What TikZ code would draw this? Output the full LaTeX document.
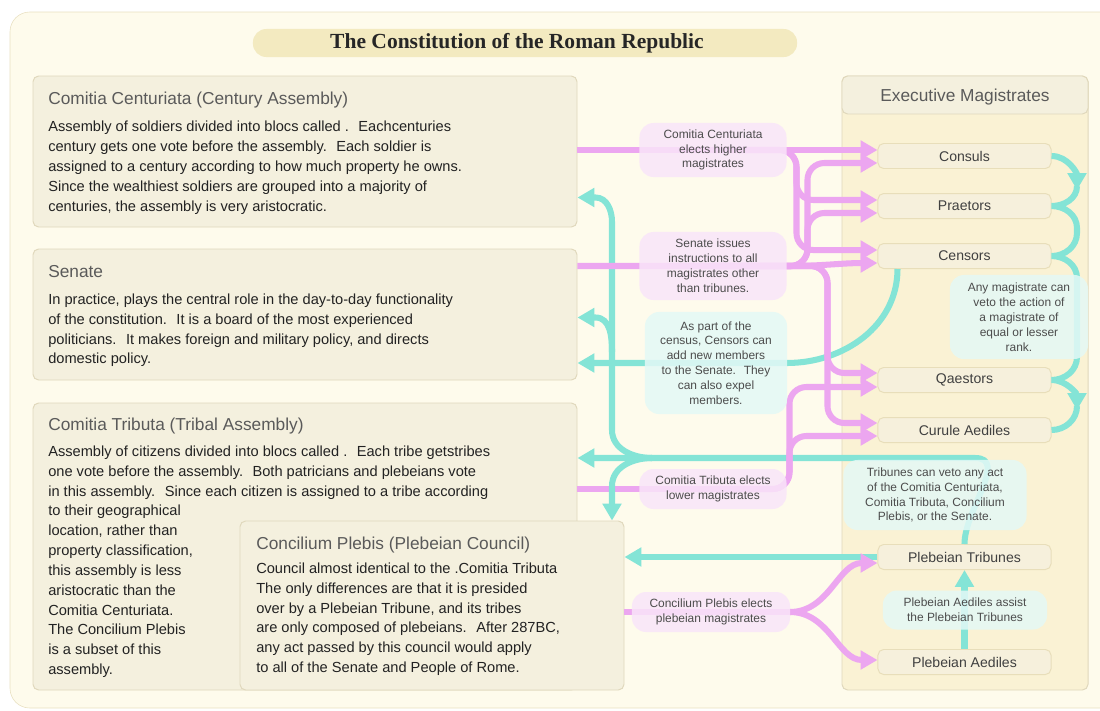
\documentclass[tikz,border=0pt]{standalone}
\usepackage{fontspec}
\setmainfont{Liberation Sans}
\newfontfamily\serifhead{Liberation Serif}
\usetikzlibrary{arrows.meta,fit,calc}

\definecolor{pagebg}{RGB}{254,251,236}
\definecolor{pageedge}{RGB}{232,224,192}
\definecolor{boxfill}{RGB}{244,240,222}
\definecolor{boxedge}{RGB}{224,216,188}
\definecolor{panelfill}{RGB}{250,242,212}
\definecolor{magfill}{RGB}{246,240,220}
\definecolor{magedge}{RGB}{232,222,186}
\definecolor{titlefill}{RGB}{243,234,192}
\definecolor{elect}{RGB}{236,166,240}
\definecolor{electfill}{RGB}{249,229,249}
\definecolor{veto}{RGB}{132,228,214}
\definecolor{vetofill}{RGB}{228,249,246}
\definecolor{headgray}{RGB}{90,90,90}
\definecolor{bodytext}{RGB}{34,34,34}

\begin{document}
\begin{tikzpicture}[x=0.025cm, y=-0.025cm, node distance=1.25cm,
    >={Triangle[length=12pt,width=13pt]},
    bigbox/.style={draw=boxedge, fill=boxfill, rounded corners=4pt, inner sep=0pt, line width=0.7pt},
    boxhead/.style={anchor=west, inner sep=0pt, text=headgray, font=\fontsize{12.3}{14}\selectfont},
    boxbody/.style={anchor=north west, inner sep=0pt, align=left, text=bodytext, font=\fontsize{10.4}{14.1}\selectfont},
    mag/.style={draw=magedge, fill=magfill, rounded corners=4pt, line width=0.7pt, minimum width=4.325cm, minimum height=0.625cm, inner sep=0pt, text=black!75, font=\fontsize{10}{12}\selectfont},
    pinklbl/.style={fill=electfill, fill opacity=0.85, text opacity=1, rounded corners=10pt, align=center, inner sep=0pt, text=black!70, font=\fontsize{8.5}{10.6}\selectfont},
    cyanlbl/.style={pinklbl, fill=vetofill},
    pinkline/.style={draw=elect, line width=4.3pt},
    cyanline/.style={draw=veto, line width=4.3pt}]
  \useasboundingbox (0,0) rectangle (1100,711);
  \draw [draw=pageedge, fill=pagebg, rounded corners=14pt] (10,12) rectangle (1140,708);

      \node (T) [fill=titlefill, rounded corners=9.5pt, minimum width=13.6cm, minimum height=0.7cm] at (525,43) {};
      \node (Tt) [text=black!85, font=\serifhead\bfseries\fontsize{15.3}{17}\selectfont] at (517,43) {The Constitution of the Roman Republic};

      \node (CC) [bigbox, fit={(33,76) (577,227)}] {};
      \node (CCh) [boxhead] at (48,100) {Comitia Centuriata (Century Assembly)};
      \node (CCb) [boxbody] at (48,121) {Assembly of soldiers divided into blocs called .~ Eachcenturies\\century gets one vote before the assembly.~ Each soldier is\\assigned to a century according to how much property he owns.\\Since the wealthiest soldiers are grouped into a majority of\\centuries, the assembly is very aristocratic.};

      \node (Sen) [bigbox, fit={(33,249) (577,380)}] {};
      \node (Senh) [boxhead] at (48,272) {Senate};
      \node (Senb) [boxbody] at (48,293.5) {In practice, plays the central role in the day-to-day functionality\\of the constitution.~ It is a board of the most experienced\\politicians.~ It makes foreign and military policy, and directs\\domestic policy.};

      \node (CT) [bigbox, fit={(33,403) (577,690)}] {};
      \node (CTh) [boxhead] at (48,426) {Comitia Tributa (Tribal Assembly)};
      \node (CTb) [boxbody] at (48,445.5) {Assembly of citizens divided into blocs called .~ Each tribe getstribes\\one vote before the assembly.~ Both patricians and plebeians vote\\in this assembly.~ Since each citizen is assigned to a tribe according\\to their geographical\\location, rather than\\property classification,\\this assembly is less\\aristocratic than the\\Comitia Centuriata.\\The Concilium Plebis\\is a subset of this\\assembly.};

      \node (CP) [bigbox, fit={(240,521) (624,690)}] {};
      \node (CPh) [boxhead] at (256,545) {Concilium Plebis (Plebeian Council)};
      \node (CPb) [boxbody] at (256,562.5) {Council almost identical to the .Comitia Tributa\\The only differences are that it is presided\\over by a Plebeian Tribune, and its tribes\\are only composed of plebeians.~ After 287BC,\\any act passed by this council would apply\\to all of the Senate and People of Rome.};

      \node (EM) [draw=boxedge, fill=panelfill, rounded corners=4pt, inner sep=0pt, line width=0.7pt, fit={(842,76) (1088,690)}] {};
      \node (EMh) [bigbox, fit={(842,76) (1088,114)}] {};
      \node (EMt) [boxhead, anchor=center] at ($(EMh.center)+(0,2)$) {Executive Magistrates};

      \node (Cons) [mag] at (964.5,156) {Consuls};
      \node (Prae) [mag, below of=Cons] {Praetors};
      \node (Cens) [mag, below of=Prae] {Censors};
      \node (Qae) [mag] at (964.5,380) {Qaestors};
      \node (CA) [mag, below of=Qae] {Curule Aediles};
      \node (PT) [mag] at (964.5,557) {Plebeian Tribunes};
      \node (PA) [mag] at (964.5,662) {Plebeian Aediles};

      \coordinate (TJ) at (612,458);
      \coordinate (TB) at (975,458);
      \coordinate (v1) at (1077,190);
      \coordinate (v2) at (1077,186);
      \coordinate (v3) at (1077,228);
      \coordinate (v4) at (1077,233);
      \coordinate (v5) at (1077,278);
      \coordinate (v6) at (1077,357);
      \coordinate (v7) at (1077,410);
      \coordinate (v8) at (1077,406);

    \draw [pinkline] (CT.east |- 0,489) -- (713,489);

    \draw [cyanline,->] ($(Cens.south)+(-67,0)$) to[out=-90,in=0] (787,363) -- (Sen.east |- 0,363);
    \draw [cyanline,->] (PT.north) to[out=90,in=0] (TB) -- (CT.east |- TJ);
    \draw [cyanline,->] ($(TJ)+(40,0)$) to[out=180,in=-90] ($(TJ)+(0,-28)$) -- ($(TJ)+(0,-236)$) to[out=90,in=0] ($(CC.east)+(18,46)$) -- ($(CC.east)+(0,46)$);
    \draw [cyanline,->] ($(TJ)+(0,-106)$) to[out=90,in=0] ($(Sen.east)+(18,3)$) -- ($(Sen.east)+(0,3)$);
    \draw [cyanline,->] ($(TJ)+(40,0)$) to[out=180,in=90] ($(TJ)+(0,28)$) -- (CP.north -| TJ);
    \draw [cyanline,->] (PT.west) -- (CP.east |- PT);
    \draw [cyanline,->] (PA.north) -- (PT.south);
    \draw [cyanline,->] (Cons.east) to[out=0,in=90] (v1);
    \draw [cyanline] (v2) to[out=-90,in=0] (Prae.east) to[out=0,in=90] (v3) -- (v4) to[out=-90,in=0] (Cens.east) to[out=0,in=90] (v5) -- (v6) to[out=-90,in=0] (Qae.east);
    \draw [cyanline,->] (Qae.east) to[out=0,in=90] (v7);
    \draw [cyanline] (v8) to[out=-90,in=0] (CA.east);

    \draw [pinkline,->] (CC.east |- 0,150) -- ($(Cons.west)+(0,-6)$);
    \draw [pinkline,->,rounded corners=12pt] (713,150) -| ($(Prae.west)+(-81,-6)$) -- ($(Prae.west)+(0,-6)$);
    \draw [pinkline,->,rounded corners=12pt] (713,150) -| ($(Cens.west)+(-81,-6)$) -- ($(Cens.west)+(0,-6)$);
    \draw [pinkline,->] (Sen.east |- 0,266) -- (787,266) to[out=0,in=180] ($(Cens.west)+(0,7)$);
    \draw [pinkline,->,rounded corners=12pt] (713,266) -| ($(Prae.west)+(-70,7)$) -- ($(Prae.west)+(0,7)$);
    \draw [pinkline,->,rounded corners=12pt] (713,266) -| ($(Cons.west)+(-70,7)$) -- ($(Cons.west)+(0,7)$);
    \draw [pinkline,->,rounded corners=12pt] (713,266) -| ($(Qae.west)+(-50,-7)$) -- ($(Qae.west)+(0,-7)$);
    \draw [pinkline,->,rounded corners=12pt] (713,266) -| ($(CA.west)+(-50,-7)$) -- ($(CA.west)+(0,-7)$);
    \draw [pinkline,->,rounded corners=12pt] (713,489) -| ($(Qae.west)+(-88,7)$) -- ($(Qae.west)+(0,7)$);
    \draw [pinkline,->,rounded corners=12pt] (713,489) -| ($(CA.west)+(-88,6)$) -- ($(CA.west)+(0,6)$);
    \draw [pinkline] (CP.east |- 0,612) -- (790,612);
    \draw [pinkline,->] (790,612) to[out=0,in=180] ($(PT.west)+(0,6)$);
    \draw [pinkline,->] (790,612) to[out=0,in=180] ($(PA.west)+(0,-2)$);

      \node (lCC) [pinklbl, minimum width=3.675cm, minimum height=1.35cm] at (713,150) {Comitia Centuriata\\elects higher\\magistrates};
      \node (lSen) [pinklbl, minimum width=3.675cm, minimum height=1.7cm] at (713,266) {Senate issues\\instructions to all\\magistrates other\\than tribunes.};
      \node (lCT) [pinklbl, minimum width=3.675cm, minimum height=1cm] at (713,489) {Comitia Tributa elects\\lower magistrates};
      \node (lCP) [pinklbl, minimum width=3.95cm, minimum height=1cm] at (711,612) {Concilium Plebis elects\\plebeian magistrates};
      \node (nCens) [cyanlbl, minimum width=3.55cm, minimum height=2.55cm] at (716,363) {As part of the\\census, Censors can\\add new members\\to the Senate.~ They\\can also expel\\members.};
      \node (nVeto) [cyanlbl, minimum width=3.45cm, minimum height=2.1cm] at (1019,317) {Any magistrate can\\veto the action of\\a magistrate of\\equal or lesser\\rank.};
      \node (nTrib) [cyanlbl, minimum width=4.575cm, minimum height=1.75cm] at (935,495) {Tribunes can veto any act\\of the Comitia Centuriata,\\Comitia Tributa, Concilium\\Plebis, or the Senate.};
      \node (nAssist) [cyanlbl, minimum width=4.1cm, minimum height=0.975cm] at (965,610) {Plebeian Aediles assist\\the Plebeian Tribunes};
\end{tikzpicture}
\end{document}
